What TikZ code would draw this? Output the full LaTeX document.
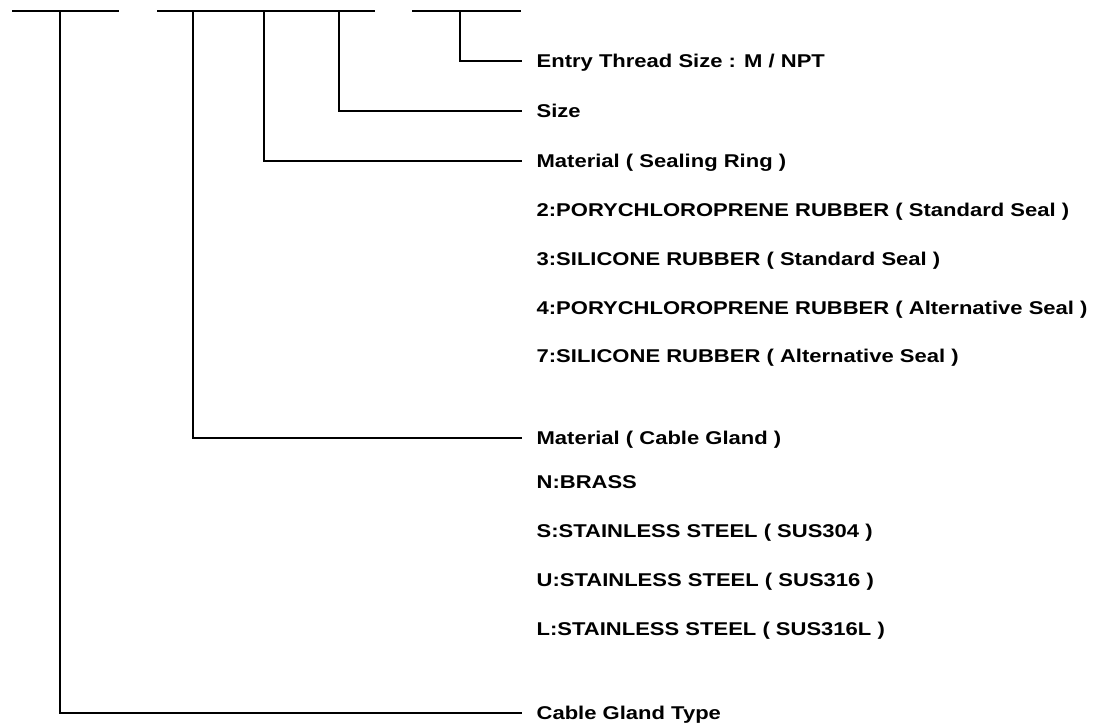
\documentclass[tikz,border=0pt]{standalone}
\usepackage{fontspec}
\setmainfont{Liberation Sans}[FakeStretch=1.19]
\usetikzlibrary{positioning}

\begin{document}
\begin{tikzpicture}[x=1pt,y=-1pt,line width=1.3pt,
  lbl/.style={anchor=west, inner xsep=14pt, inner ysep=0pt, text height=13.3pt, text depth=0pt,
    font=\fontsize{18.5}{22}\selectfont\bfseries},
  row/.style={lbl}]
  \useasboundingbox (0,0) rectangle (1104,724);
  % top bars
  \draw (12,11) -- (119,11);
  \draw (157,11) -- (375,11);
  \draw (412,11) -- (521,11);
  \coordinate (jType) at (60,11);
  \coordinate (jGland) at (193,11);
  \coordinate (jSeal) at (264,11);
  \coordinate (jSize) at (339,11);
  \coordinate (jThread) at (460,11);
  % labels
  \node[lbl] (thread) at (522,61) {Entry Thread Size : M / NPT};
  \node[lbl] (size) at (522,111) {Size};
  \node[lbl] (seal) at (522,161) {Material ( Sealing Ring )};
  \node[row] (seal2) at (522,210) {2:PORYCHLOROPRENE RUBBER ( Standard Seal )};
  \node[row] (seal3) at (522,259) {3:SILICONE RUBBER ( Standard Seal )};
  \node[row] (seal4) at (522,308) {4:PORYCHLOROPRENE RUBBER ( Alternative Seal )};
  \node[row] (seal7) at (522,356) {7:SILICONE RUBBER ( Alternative Seal )};
  \node[lbl] (gland) at (522,438) {Material ( Cable Gland )};
  \node[row] (glandN) at (522,482) {N:BRASS};
  \node[row] (glandS) at (522,531) {S:STAINLESS STEEL ( SUS304 )};
  \node[row] (glandU) at (522,580) {U:STAINLESS STEEL ( SUS316 )};
  \node[row] (glandL) at (522,629) {L:STAINLESS STEEL ( SUS316L )};
  \node[lbl] (type) at (522,713) {Cable Gland Type};
  % connectors
  \draw (jThread) |- (thread.west);
  \draw (jSize) |- (size.west);
  \draw (jSeal) |- (seal.west);
  \draw (jGland) |- (gland.west);
  \draw (jType) |- (type.west);
\end{tikzpicture}
\end{document}
